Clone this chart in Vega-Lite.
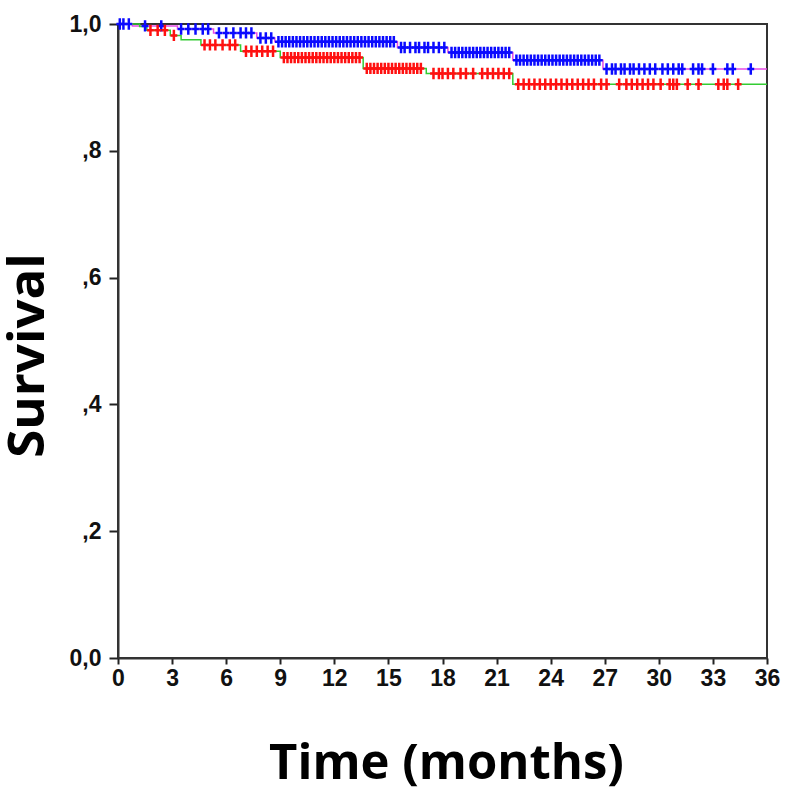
{
  "$schema": "https://vega.github.io/schema/vega-lite/v6.json",
  "autosize": {"type": "none"},
  "width": 649,
  "height": 634,
  "padding": {"left": 118, "top": 24, "right": 21, "bottom": 137},
  "background": "white",
  "config": {
    "view": {"stroke": "#333333", "strokeWidth": 2},
    "axis": {"grid": false, "domainColor": "#333333", "domainWidth": 2, "tickColor": "#222222", "tickWidth": 2,
             "labelFont": "Liberation Sans", "labelFontWeight": "bold", "labelColor": "#111111",
             "titleFont": "Open Sans", "titleFontWeight": "bold", "titleColor": "#000000"}
  },
  "datasets": {
    "curve": [
      {"g": "A", "t": 0, "s": 1.0}, {"g": "A", "t": 0.8, "s": 0.997}, {"g": "A", "t": 3.3, "s": 0.992},
      {"g": "A", "t": 5.3, "s": 0.986}, {"g": "A", "t": 7.7, "s": 0.978}, {"g": "A", "t": 8.7, "s": 0.972},
      {"g": "A", "t": 15.5, "s": 0.963}, {"g": "A", "t": 18.3, "s": 0.955}, {"g": "A", "t": 21.9, "s": 0.943},
      {"g": "A", "t": 26.9, "s": 0.929}, {"g": "A", "t": 36, "s": 0.929},
      {"g": "B", "t": 0, "s": 1.0}, {"g": "B", "t": 1.2, "s": 0.996}, {"g": "B", "t": 1.6, "s": 0.99},
      {"g": "B", "t": 2.9, "s": 0.982}, {"g": "B", "t": 3.5, "s": 0.975}, {"g": "B", "t": 4.6, "s": 0.967},
      {"g": "B", "t": 6.8, "s": 0.957}, {"g": "B", "t": 9.0, "s": 0.947}, {"g": "B", "t": 13.6, "s": 0.93},
      {"g": "B", "t": 17.1, "s": 0.922}, {"g": "B", "t": 21.9, "s": 0.905}, {"g": "B", "t": 36, "s": 0.905}
    ],
    "censor": [
      {"g": "A", "t": 0.1, "s": 1.0}, {"g": "A", "t": 0.3, "s": 1.0}, {"g": "A", "t": 0.6, "s": 1.0},
      {"g": "A", "t": 1.5, "s": 0.997}, {"g": "A", "t": 2.4, "s": 0.997},
      {"g": "A", "t": 3.5, "s": 0.992}, {"g": "A", "t": 3.9, "s": 0.992}, {"g": "A", "t": 4.3, "s": 0.992}, {"g": "A", "t": 4.7, "s": 0.992}, {"g": "A", "t": 5.0, "s": 0.992},
      {"g": "A", "t": 5.6, "s": 0.986}, {"g": "A", "t": 6.0, "s": 0.986}, {"g": "A", "t": 6.4, "s": 0.986}, {"g": "A", "t": 6.8, "s": 0.986}, {"g": "A", "t": 7.1, "s": 0.986}, {"g": "A", "t": 7.4, "s": 0.986},
      {"g": "A", "t": 7.9, "s": 0.978}, {"g": "A", "t": 8.2, "s": 0.978}, {"g": "A", "t": 8.5, "s": 0.978},
      {"g": "A", "t": 8.9, "s": 0.972}, {"g": "A", "t": 9.1, "s": 0.972}, {"g": "A", "t": 9.3, "s": 0.972}, {"g": "A", "t": 9.5, "s": 0.972}, {"g": "A", "t": 9.7, "s": 0.972}, {"g": "A", "t": 9.9, "s": 0.972}, {"g": "A", "t": 10.1, "s": 0.972}, {"g": "A", "t": 10.3, "s": 0.972}, {"g": "A", "t": 10.5, "s": 0.972}, {"g": "A", "t": 10.7, "s": 0.972}, {"g": "A", "t": 10.9, "s": 0.972}, {"g": "A", "t": 11.1, "s": 0.972}, {"g": "A", "t": 11.3, "s": 0.972}, {"g": "A", "t": 11.5, "s": 0.972}, {"g": "A", "t": 11.7, "s": 0.972}, {"g": "A", "t": 11.9, "s": 0.972}, {"g": "A", "t": 12.1, "s": 0.972}, {"g": "A", "t": 12.3, "s": 0.972}, {"g": "A", "t": 12.5, "s": 0.972}, {"g": "A", "t": 12.7, "s": 0.972}, {"g": "A", "t": 12.9, "s": 0.972}, {"g": "A", "t": 13.1, "s": 0.972}, {"g": "A", "t": 13.3, "s": 0.972}, {"g": "A", "t": 13.5, "s": 0.972}, {"g": "A", "t": 13.7, "s": 0.972}, {"g": "A", "t": 13.9, "s": 0.972}, {"g": "A", "t": 14.1, "s": 0.972}, {"g": "A", "t": 14.3, "s": 0.972}, {"g": "A", "t": 14.5, "s": 0.972}, {"g": "A", "t": 14.7, "s": 0.972}, {"g": "A", "t": 14.9, "s": 0.972}, {"g": "A", "t": 15.1, "s": 0.972}, {"g": "A", "t": 15.3, "s": 0.972},
      {"g": "A", "t": 15.7, "s": 0.963}, {"g": "A", "t": 15.9, "s": 0.963}, {"g": "A", "t": 16.2, "s": 0.963}, {"g": "A", "t": 16.5, "s": 0.963}, {"g": "A", "t": 16.7, "s": 0.963}, {"g": "A", "t": 17.0, "s": 0.963}, {"g": "A", "t": 17.2, "s": 0.963}, {"g": "A", "t": 17.5, "s": 0.963}, {"g": "A", "t": 17.8, "s": 0.963}, {"g": "A", "t": 18.1, "s": 0.963},
      {"g": "A", "t": 18.5, "s": 0.955}, {"g": "A", "t": 18.7, "s": 0.955}, {"g": "A", "t": 18.9, "s": 0.955}, {"g": "A", "t": 19.1, "s": 0.955}, {"g": "A", "t": 19.3, "s": 0.955}, {"g": "A", "t": 19.5, "s": 0.955}, {"g": "A", "t": 19.7, "s": 0.955}, {"g": "A", "t": 19.9, "s": 0.955}, {"g": "A", "t": 20.1, "s": 0.955}, {"g": "A", "t": 20.3, "s": 0.955}, {"g": "A", "t": 20.5, "s": 0.955}, {"g": "A", "t": 20.7, "s": 0.955}, {"g": "A", "t": 20.9, "s": 0.955}, {"g": "A", "t": 21.1, "s": 0.955}, {"g": "A", "t": 21.3, "s": 0.955}, {"g": "A", "t": 21.5, "s": 0.955}, {"g": "A", "t": 21.7, "s": 0.955},
      {"g": "A", "t": 22.1, "s": 0.943}, {"g": "A", "t": 22.3, "s": 0.943}, {"g": "A", "t": 22.5, "s": 0.943}, {"g": "A", "t": 22.7, "s": 0.943}, {"g": "A", "t": 22.9, "s": 0.943}, {"g": "A", "t": 23.1, "s": 0.943}, {"g": "A", "t": 23.3, "s": 0.943}, {"g": "A", "t": 23.5, "s": 0.943}, {"g": "A", "t": 23.7, "s": 0.943}, {"g": "A", "t": 23.9, "s": 0.943}, {"g": "A", "t": 24.1, "s": 0.943}, {"g": "A", "t": 24.3, "s": 0.943}, {"g": "A", "t": 24.5, "s": 0.943}, {"g": "A", "t": 24.7, "s": 0.943}, {"g": "A", "t": 24.9, "s": 0.943}, {"g": "A", "t": 25.1, "s": 0.943}, {"g": "A", "t": 25.3, "s": 0.943}, {"g": "A", "t": 25.5, "s": 0.943}, {"g": "A", "t": 25.7, "s": 0.943}, {"g": "A", "t": 25.9, "s": 0.943}, {"g": "A", "t": 26.1, "s": 0.943}, {"g": "A", "t": 26.3, "s": 0.943}, {"g": "A", "t": 26.5, "s": 0.943}, {"g": "A", "t": 26.7, "s": 0.943},
      {"g": "A", "t": 27.1, "s": 0.929}, {"g": "A", "t": 27.4, "s": 0.929}, {"g": "A", "t": 27.6, "s": 0.929}, {"g": "A", "t": 27.9, "s": 0.929}, {"g": "A", "t": 28.1, "s": 0.929}, {"g": "A", "t": 28.4, "s": 0.929}, {"g": "A", "t": 28.6, "s": 0.929}, {"g": "A", "t": 28.9, "s": 0.929}, {"g": "A", "t": 29.2, "s": 0.929}, {"g": "A", "t": 29.5, "s": 0.929}, {"g": "A", "t": 29.8, "s": 0.929}, {"g": "A", "t": 30.2, "s": 0.929}, {"g": "A", "t": 30.5, "s": 0.929}, {"g": "A", "t": 30.8, "s": 0.929}, {"g": "A", "t": 31.1, "s": 0.929}, {"g": "A", "t": 31.3, "s": 0.929}, {"g": "A", "t": 31.9, "s": 0.929}, {"g": "A", "t": 32.2, "s": 0.929}, {"g": "A", "t": 32.4, "s": 0.929}, {"g": "A", "t": 33.0, "s": 0.929}, {"g": "A", "t": 33.8, "s": 0.929}, {"g": "A", "t": 34.1, "s": 0.929}, {"g": "A", "t": 35.1, "s": 0.929},
      {"g": "B", "t": 1.8, "s": 0.99}, {"g": "B", "t": 2.2, "s": 0.99}, {"g": "B", "t": 2.6, "s": 0.99},
      {"g": "B", "t": 3.1, "s": 0.982},
      {"g": "B", "t": 4.8, "s": 0.967}, {"g": "B", "t": 5.1, "s": 0.967}, {"g": "B", "t": 5.4, "s": 0.967}, {"g": "B", "t": 5.8, "s": 0.967}, {"g": "B", "t": 6.2, "s": 0.967}, {"g": "B", "t": 6.5, "s": 0.967},
      {"g": "B", "t": 7.1, "s": 0.957}, {"g": "B", "t": 7.4, "s": 0.957}, {"g": "B", "t": 7.7, "s": 0.957}, {"g": "B", "t": 8.0, "s": 0.957}, {"g": "B", "t": 8.3, "s": 0.957}, {"g": "B", "t": 8.6, "s": 0.957},
      {"g": "B", "t": 9.2, "s": 0.947}, {"g": "B", "t": 9.4, "s": 0.947}, {"g": "B", "t": 9.6, "s": 0.947}, {"g": "B", "t": 9.8, "s": 0.947}, {"g": "B", "t": 10.0, "s": 0.947}, {"g": "B", "t": 10.2, "s": 0.947}, {"g": "B", "t": 10.4, "s": 0.947}, {"g": "B", "t": 10.6, "s": 0.947}, {"g": "B", "t": 10.8, "s": 0.947}, {"g": "B", "t": 11.0, "s": 0.947}, {"g": "B", "t": 11.2, "s": 0.947}, {"g": "B", "t": 11.4, "s": 0.947}, {"g": "B", "t": 11.6, "s": 0.947}, {"g": "B", "t": 11.8, "s": 0.947}, {"g": "B", "t": 12.0, "s": 0.947}, {"g": "B", "t": 12.2, "s": 0.947}, {"g": "B", "t": 12.4, "s": 0.947}, {"g": "B", "t": 12.6, "s": 0.947}, {"g": "B", "t": 12.8, "s": 0.947}, {"g": "B", "t": 13.0, "s": 0.947}, {"g": "B", "t": 13.2, "s": 0.947}, {"g": "B", "t": 13.4, "s": 0.947},
      {"g": "B", "t": 13.8, "s": 0.93}, {"g": "B", "t": 14.0, "s": 0.93}, {"g": "B", "t": 14.2, "s": 0.93}, {"g": "B", "t": 14.4, "s": 0.93}, {"g": "B", "t": 14.6, "s": 0.93}, {"g": "B", "t": 14.8, "s": 0.93}, {"g": "B", "t": 15.0, "s": 0.93}, {"g": "B", "t": 15.2, "s": 0.93}, {"g": "B", "t": 15.4, "s": 0.93}, {"g": "B", "t": 15.6, "s": 0.93}, {"g": "B", "t": 15.8, "s": 0.93}, {"g": "B", "t": 16.0, "s": 0.93}, {"g": "B", "t": 16.2, "s": 0.93}, {"g": "B", "t": 16.4, "s": 0.93}, {"g": "B", "t": 16.6, "s": 0.93}, {"g": "B", "t": 16.8, "s": 0.93},
      {"g": "B", "t": 17.5, "s": 0.922}, {"g": "B", "t": 17.8, "s": 0.922}, {"g": "B", "t": 18.0, "s": 0.922}, {"g": "B", "t": 18.3, "s": 0.922}, {"g": "B", "t": 18.6, "s": 0.922}, {"g": "B", "t": 19.0, "s": 0.922}, {"g": "B", "t": 19.3, "s": 0.922}, {"g": "B", "t": 19.7, "s": 0.922}, {"g": "B", "t": 20.2, "s": 0.922}, {"g": "B", "t": 20.5, "s": 0.922}, {"g": "B", "t": 20.8, "s": 0.922}, {"g": "B", "t": 21.1, "s": 0.922}, {"g": "B", "t": 21.4, "s": 0.922}, {"g": "B", "t": 21.7, "s": 0.922},
      {"g": "B", "t": 22.2, "s": 0.905}, {"g": "B", "t": 22.5, "s": 0.905}, {"g": "B", "t": 22.8, "s": 0.905}, {"g": "B", "t": 23.1, "s": 0.905}, {"g": "B", "t": 23.4, "s": 0.905}, {"g": "B", "t": 23.7, "s": 0.905}, {"g": "B", "t": 24.0, "s": 0.905}, {"g": "B", "t": 24.3, "s": 0.905}, {"g": "B", "t": 24.6, "s": 0.905}, {"g": "B", "t": 24.9, "s": 0.905}, {"g": "B", "t": 25.2, "s": 0.905}, {"g": "B", "t": 25.5, "s": 0.905}, {"g": "B", "t": 25.8, "s": 0.905}, {"g": "B", "t": 26.1, "s": 0.905}, {"g": "B", "t": 26.4, "s": 0.905}, {"g": "B", "t": 26.8, "s": 0.905}, {"g": "B", "t": 27.1, "s": 0.905}, {"g": "B", "t": 27.8, "s": 0.905}, {"g": "B", "t": 28.2, "s": 0.905}, {"g": "B", "t": 28.5, "s": 0.905}, {"g": "B", "t": 28.8, "s": 0.905}, {"g": "B", "t": 29.1, "s": 0.905}, {"g": "B", "t": 29.4, "s": 0.905}, {"g": "B", "t": 29.7, "s": 0.905}, {"g": "B", "t": 30.1, "s": 0.905}, {"g": "B", "t": 30.6, "s": 0.905}, {"g": "B", "t": 30.8, "s": 0.905}, {"g": "B", "t": 31.0, "s": 0.905}, {"g": "B", "t": 31.6, "s": 0.905}, {"g": "B", "t": 32.2, "s": 0.905}, {"g": "B", "t": 33.3, "s": 0.905}, {"g": "B", "t": 33.6, "s": 0.905}, {"g": "B", "t": 33.8, "s": 0.905}, {"g": "B", "t": 34.4, "s": 0.905}
    ]
  },
  "encoding": {
    "x": {"field": "t", "type": "quantitative",
          "scale": {"domain": [0, 36], "nice": false, "zero": false},
          "axis": {"title": "Time (months)", "values": [0, 3, 6, 9, 12, 15, 18, 21, 24, 27, 30, 33, 36],
                   "labelFontSize": 23, "tickSize": 6, "labelPadding": 3, "labelFlush": false,
                   "titleFontSize": 49, "titleBaseline": "alphabetic", "titleY": 120, "titleAnchor": "middle", "titleX": 328}},
    "y": {"field": "s", "type": "quantitative",
          "scale": {"domain": [0, 1], "nice": false},
          "axis": {"title": "Survival", "values": [0, 0.2, 0.4, 0.6, 0.8, 1.0],
                   "labelExpr": "datum.value == 0 ? '0,0' : (datum.value == 1 ? '1,0' : ',' + round(datum.value * 10))",
                   "labelFontSize": 23, "tickSize": 9, "labelPadding": 8, "labelFlush": false,
                   "titleFontSize": 51, "titleAngle": -90, "titleBaseline": "alphabetic", "titleAlign": "center",
                   "titleX": -75, "titleY": 331}}
  },
  "layer": [
    {
      "data": {"name": "curve"},
      "mark": {"type": "line", "interpolate": "step-after", "strokeWidth": 1.5},
      "encoding": {
        "color": {"field": "g", "type": "nominal", "scale": {"domain": ["A", "B"], "range": ["#e64ce6", "#33cc33"]}, "legend": null}
      }
    },
    {
      "data": {"name": "censor"},
      "mark": {"type": "point", "shape": "M0,-1V1M-0.6,0H0.6", "size": 130, "filled": false, "strokeWidth": 2.5, "opacity": 1},
      "encoding": {
        "color": {"field": "g", "type": "nominal", "scale": {"domain": ["A", "B"], "range": ["#0a0aff", "#ff1010"]}, "legend": null}
      }
    }
  ],
  "resolve": {"scale": {"color": "independent"}}
}
